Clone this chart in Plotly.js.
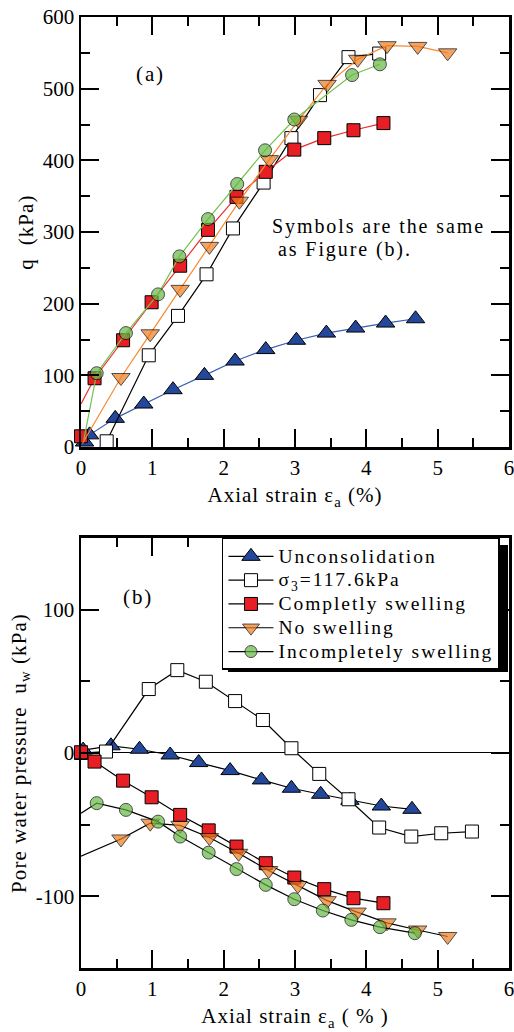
<!DOCTYPE html>
<html>
<head>
<meta charset="utf-8">
<script src="https://cdn.plot.ly/plotly-3.0.1.min.js"></script>
<style>
html,body{margin:0;padding:0;background:#fff;}
#chart{width:514px;height:1032px;}
.legendtext{letter-spacing:1.95px;font-size:19.5px !important;}
.annotation-text{letter-spacing:1.9px;}
.xtitle,.x2title{letter-spacing:1px;}
.ytitle,.y2title{letter-spacing:1.1px;}
</style>
</head>
<body>
<div id="chart"></div>
<script>
// ---------- data: (a) q vs axial strain ----------
var names = ["Unconsolidation", "σ<sub>3</sub>=117.6kPa", "Completly swelling", "No swelling", "Incompletely swelling"];

var aUncX = [0.05, 0.12, 0.48, 0.88, 1.29, 1.73, 2.16, 2.59, 3.02, 3.44, 3.85, 4.27, 4.69];
var aUncY = [7, 17, 40, 60, 80, 100, 120, 136, 149, 159, 166, 173, 179];

var aSigX = [0.36, 0.95, 1.36, 1.76, 2.13, 2.56, 2.95, 3.35, 3.75, 4.18];
var aSigY = [8, 128, 183, 241, 305, 369, 431, 491, 544, 549];

var aCompX = [0.0, 0.19, 0.59, 0.99, 1.39, 1.78, 2.18, 2.59, 2.99, 3.41, 3.82, 4.24];
var aCompY = [15, 96, 149, 202, 253, 303, 349, 384, 415, 431, 442, 452];
var aCompLineX = [0.0, 0.19];   // fitted start of the red curve
var aCompLineY = [60, 96];

var aNoX = [0.02, 0.56, 0.97, 1.39, 1.80, 2.22, 2.64, 3.05, 3.45, 3.88, 4.29, 4.72, 5.14];
var aNoY = [5, 97, 158, 220, 280, 343, 401, 456, 506, 541, 560, 559, 550];
var aNoSize = [0, 16, 16, 16, 16, 16, 16, 16, 16, 16, 16, 16, 16];

var aIncX = [0.04, 0.22, 0.63, 1.08, 1.38, 1.78, 2.19, 2.58, 2.99, 3.80, 4.19];
var aIncY = [10, 103, 159, 213, 266, 318, 367, 414, 457, 519, 534];
var aIncSize = [0, 13, 13, 13, 13, 13, 13, 13, 13, 13, 13];

// ---------- data: (b) pore water pressure vs axial strain ----------
var bUncX = [0.03, 0.42, 0.82, 1.25, 1.65, 2.09, 2.53, 2.95, 3.36, 3.77, 4.21, 4.64];
var bUncY = [2, 5, 2.6, -1.4, -6.7, -12.3, -18.8, -24.6, -28.8, -33, -37, -39.3];

var bSigX = [0.0, 0.35, 0.95, 1.35, 1.75, 2.16, 2.55, 2.95, 3.34, 3.75, 4.18, 4.63, 5.05, 5.48];
var bSigY = [0, 1, 44.6, 57.8, 49.7, 36.2, 23, 3.3, -14.6, -32.3, -52, -58.3, -56, -54.8];

var bCompX = [0.0, 0.19, 0.59, 0.99, 1.39, 1.79, 2.18, 2.59, 2.99, 3.41, 3.82, 4.24];
var bCompY = [0.5, -6, -19.3, -30.9, -43.2, -54, -65.3, -76.9, -86.9, -95, -101.3, -104.8];

var bNoX = [0.0, 0.56, 0.97, 1.39, 1.80, 2.21, 2.63, 3.04, 3.45, 3.87, 4.29, 4.72, 5.14];
var bNoY = [-72, -60, -49, -50.5, -59, -70, -82, -92.5, -103, -111, -118.5, -123.5, -128];
var bNoSize = [0, 16, 16, 16, 16, 16, 16, 16, 16, 16, 16, 16, 16];

var bIncX = [0.0, 0.22, 0.63, 1.08, 1.39, 1.79, 2.18, 2.59, 2.99, 3.39, 3.79, 4.19, 4.68];
var bIncY = [-42, -35, -39.7, -47.9, -58.3, -69.5, -81, -92, -102, -109.9, -116.4, -121.5, -125.7];
var bIncSize = [0, 13, 13, 13, 13, 13, 13, 13, 13, 13, 13, 13, 13];

var xTicks = [0, 1, 2, 3, 4, 5, 6];
var aYTicks = [0, 100, 200, 300, 400, 500, 600];
var bYTicks = [-100, 0, 100];

// ---------- styles ----------
var FONT = "'Liberation Serif', 'Times New Roman', serif";
var cBlueF = "#23479b", cBlueL = "#3a5fb0";
var cRedF = "#e81e25", cRedL = "#ee2a2a";
var cOrF = "#f07c1c", cOrL = "#f58a30";
var cGrF = "#66b845", cGrL = "#74c34e";
var outline = {color: "#000", width: 1};

function tr(x, y, xa, ya, sym, fill, lineColor, size, name, show) {
  return {
    x: x, y: y, xaxis: xa, yaxis: ya, type: "scatter", mode: "lines+markers",
    name: name, showlegend: show, cliponaxis: false,
    line: {color: lineColor, width: 1.2},
    marker: {symbol: sym, color: fill, size: size, line: outline}
  };
}

var data = [
  // panel (a)
  tr(aUncX, aUncY, "x", "y", "triangle-up", cBlueF, cBlueL, 16, names[0], false),
  tr(aSigX, aSigY, "x", "y", "square", "#fff", "#000", 13, names[1], false),
  {x: aCompLineX, y: aCompLineY, xaxis: "x", yaxis: "y", type: "scatter", mode: "lines",
   showlegend: false, line: {color: cRedL, width: 1.2}},
  tr(aCompX.slice(1), aCompY.slice(1), "x", "y", "square", cRedF, cRedL, 13, names[2], false),
  {x: aCompX.slice(0, 1), y: aCompY.slice(0, 1), xaxis: "x", yaxis: "y", type: "scatter", mode: "markers",
   showlegend: false, cliponaxis: false, marker: {symbol: "square", color: cRedF, size: 13, line: outline}},
  tr(aNoX, aNoY, "x", "y", "triangle-down", cOrF, cOrL, aNoSize, names[3], false),
  tr(aIncX, aIncY, "x", "y", "circle", cGrF, cGrL, aIncSize, names[4], false),
  // panel (b)
  tr(bUncX, bUncY, "x2", "y2", "triangle-up", cBlueF, "#000", 16, names[0], true),
  tr(bSigX, bSigY, "x2", "y2", "square", "#fff", "#000", 13, names[1], true),
  tr(bCompX, bCompY, "x2", "y2", "square", cRedF, "#000", 13, names[2], true),
  tr(bNoX, bNoY, "x2", "y2", "triangle-down", cOrF, "#000", bNoSize, names[3], true),
  tr(bIncX, bIncY, "x2", "y2", "circle", cGrF, "#000", bIncSize, names[4], true)
];

function xaxis(anchor, title) {
  return {
    anchor: anchor, range: [0, 6], tickvals: xTicks, ticktext: xTicks.map(String),
    ticklabeloverflow: "allow",
    showgrid: false, zeroline: false, showline: true, linecolor: "#000", linewidth: 2.5, mirror: "ticks",
    ticks: "inside", ticklen: 18, tickwidth: 2, tickcolor: "#000",
    minor: {ticks: "inside", ticklen: 9, tickwidth: 2, tickcolor: "#000", dtick: 0.5, showgrid: false},
    tickfont: {family: FONT, size: 21, color: "#000"},
    title: {text: title, font: {family: FONT, size: 21, color: "#000"}, standoff: 9},
    fixedrange: true
  };
}
function yaxis(anchor, range, ticks, dminor, title, zl) {
  return {
    anchor: anchor, range: range, tickvals: ticks, ticktext: ticks.map(String),
    ticklabeloverflow: "allow",
    showgrid: false, zeroline: zl, zerolinecolor: "#000", zerolinewidth: 1,
    showline: true, linecolor: "#000", linewidth: 2.5, mirror: "ticks",
    ticks: "inside", ticklen: 18, tickwidth: 2, tickcolor: "#000",
    minor: {ticks: "inside", ticklen: 9, tickwidth: 2, tickcolor: "#000", dtick: dminor, showgrid: false},
    tickfont: {family: FONT, size: 21, color: "#000"},
    title: {text: title, font: {family: FONT, size: 21, color: "#000"}, standoff: 4},
    fixedrange: true
  };
}

var layout = {
  width: 514, height: 1032,
  margin: {l: 81, r: 5, t: 17, b: 64},
  paper_bgcolor: "#fff", plot_bgcolor: "#fff",
  font: {family: FONT, size: 20, color: "#000"},
  xaxis: Object.assign(xaxis("y", "Axial strain ε<sub>a</sub> (%)"), {domain: [0, 1]}),
  yaxis: Object.assign(yaxis("x", [0, 600], aYTicks, 50, "q  (kPa)", false), {domain: [0.5478, 1]}),
  xaxis2: Object.assign(xaxis("y2", "Axial strain ε<sub>a</sub> ( % )"), {domain: [0, 1]}),
  yaxis2: Object.assign(yaxis("x2", [-150, 150], bYTicks, 50, "Pore water pressure  u<sub>w</sub> (kPa)", true), {domain: [0, 0.4522]}),
  showlegend: true,
  legend: {
    x: 0.3294, y: 0.4522, xanchor: "left", yanchor: "top", xref: "paper", yref: "paper",
    bgcolor: "#fff", bordercolor: "#000", borderwidth: 1.5,
    font: {family: FONT, size: 16, color: "#000"},
    itemwidth: 45, tracegroupgap: 0, itemclick: false, itemdoubleclick: false
  },
  shapes: [
    {type: "rect", xref: "paper", yref: "paper", x0: 0.3435, x1: 0.9977, y0: 0.3113, y1: 0.4448,
     fillcolor: "#000", line: {width: 0}, layer: "above"}
  ],
  annotations: [
    {xref: "x", yref: "y", x: 0.97, y: 520, text: "(a)", showarrow: false,
     font: {family: FONT, size: 21, color: "#000"}},
    {xref: "x", yref: "y", x: 2.65, y: 308, text: "Symbols are the same", showarrow: false, xanchor: "left",
     font: {family: FONT, size: 20, color: "#000"}},
    {xref: "x", yref: "y", x: 2.73, y: 276, text: "as Figure (b).", showarrow: false, xanchor: "left",
     font: {family: FONT, size: 20, color: "#000"}},
    {xref: "x2", yref: "y2", x: 0.8, y: 109, text: "(b)", showarrow: false,
     font: {family: FONT, size: 21, color: "#000"}}
  ]
};

Plotly.newPlot("chart", data, layout, {displayModeBar: false, staticPlot: true});
</script>
</body>
</html>
